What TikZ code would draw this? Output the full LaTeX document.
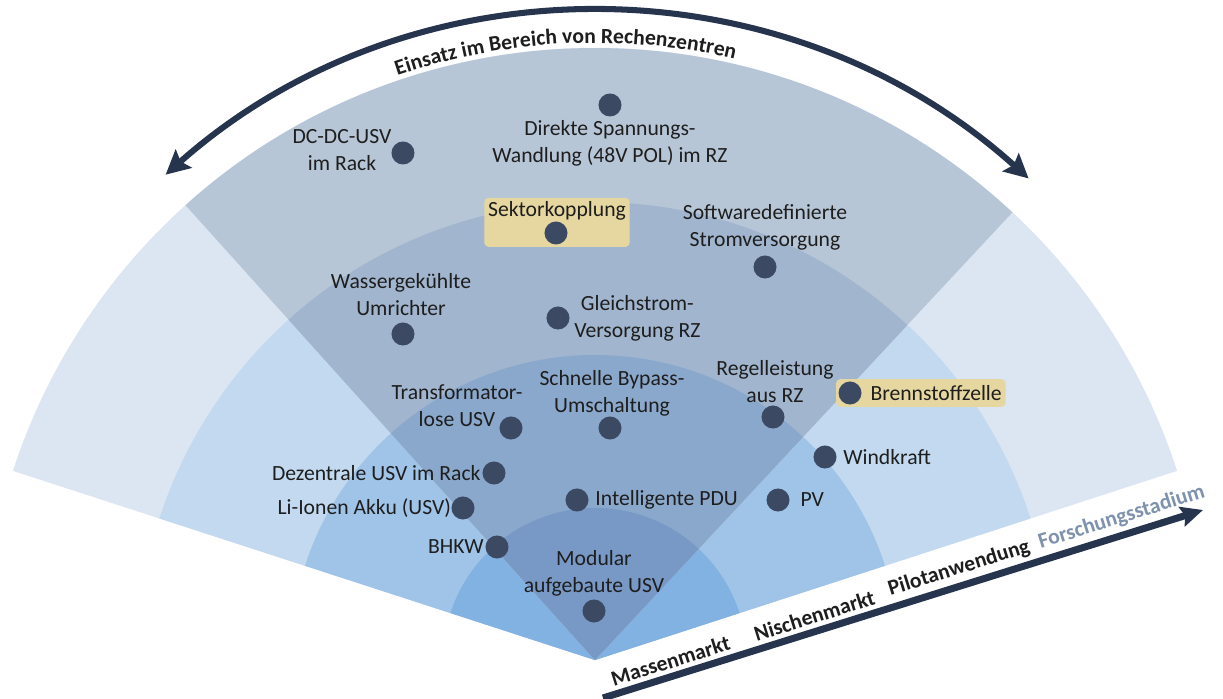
\documentclass[tikz,border=0pt]{standalone}
\usepackage{fontspec}
\setmainfont{Carlito}
\usetikzlibrary{positioning, arrows.meta, fit, backgrounds, decorations.text}

\definecolor{outA}{HTML}{82B2E2}
\definecolor{outB}{HTML}{A0C4E8}
\definecolor{outC}{HTML}{C2D9EF}
\definecolor{outD}{HTML}{DCE6F2}
\definecolor{inA}{HTML}{7898C6}
\definecolor{inB}{HTML}{8AA8CC}
\definecolor{inC}{HTML}{A1B5CE}
\definecolor{inD}{HTML}{B7C6D7}
\definecolor{dotc}{HTML}{3B4963}
\definecolor{ink}{HTML}{1E1E1E}
\definecolor{arrowc}{HTML}{26344D}
\definecolor{hl}{HTML}{E6D7A0}
\definecolor{forsch}{HTML}{7E92AE}

\pgfdeclarelayer{rings}
\pgfsetlayers{rings,background,main}

\newcommand{\arctitlefont}{\color{ink}\bfseries\fontsize{15.4}{19.2}\selectfont}

\begin{document}
\begin{tikzpicture}[
        x=0.025cm, y=0.025cm,
        dot/.style={circle, fill=dotc, minimum size=0.575cm, inner sep=0pt},
        lbl/.style={font=\fontsize{15.4}{19.2}\selectfont, text=ink, align=center, inner sep=1pt},
        axlbl/.style={font=\bfseries\fontsize{15.4}{19.2}\selectfont, text=ink, inner sep=3pt, above, sloped},
        hilite/.style={fill=hl, rounded corners=3pt, inner sep=1.5pt},
        arcarrow/.style={draw=arrowc, line width=4.3pt, {Stealth[length=0.6cm, width=0.6cm, inset=0.1cm]}-{Stealth[length=0.6cm, width=0.6cm, inset=0.1cm]}},
        axarrow/.style={draw=arrowc, line width=5pt, -{Stealth[length=0.55cm, width=0.5cm, inset=0.08cm]}}
    ]
        \useasboundingbox (-595,-38) rectangle (628,660);

        \begin{pgfonlayer}{rings}
        \fill[white] (-595,-38) rectangle (628,660);
        \foreach \r/\c in {612/outD, 458/outC, 305/outB, 152/outA}
            \fill[\c] (0,0) -- (18:\r) arc[start angle=18, end angle=162, radius=\r] -- cycle;
        \foreach \r/\c in {612/inD, 458/inC, 305/inB, 152/inA}
            \fill[\c] (0,0) -- (47:\r) arc[start angle=47, end angle=132, radius=\r] -- cycle;
        \end{pgfonlayer}

        \coordinate (arcL) at (131.5:648);
        \coordinate (arcR) at (48:648);
        \draw[arcarrow] (arcL) arc[start angle=131.5, end angle=48, radius=648];
        \path[decorate, decoration={text along path, text align=center,
            text={|\arctitlefont|Einsatz im Bereich von Rechenzentren}}]
            (118:617) arc[start angle=118, end angle=67.6, radius=617];

        \node[dot] (dspw) at (15,555) {};
        \node[lbl] (dspwlbl) at (15,517) {Direkte Spannungs-\\Wandlung (48V POL) im RZ};
        \node[dot] (dcdc) at (-192,507) {};
        \node[lbl] (dcdclbl) at (-253,510) {DC-DC-USV\\im Rack};
        \node[dot] (sektor) at (-39,427) {};
        \node[lbl] (sektorlbl) at (-38,449) {Sektorkopplung};
        \node[dot] (soft) at (170,393) {};
        \node[lbl] (softlbl) at (170,433) {Softwaredefinierte\\Stromversorgung};
        \node[dot] (wasser) at (-192,326) {};
        \node[lbl] (wasserlbl) at (-194,365) {Wassergekühlte\\Umrichter};
        \node[dot] (gleich) at (-37,342) {};
        \node[lbl, right=2pt of gleich] (gleichlbl) {Gleichstrom-\\Versorgung RZ};
        \node[dot] (regel) at (178,243) {};
        \node[lbl] (regellbl) at (180,278) {Regelleistung\\aus RZ};
        \node[dot] (brenn) at (255,267) {};
        \node[lbl, right=5pt of brenn] (brennlbl) {Brennstoffzelle};
        \node[dot] (bypass) at (15,232) {};
        \node[lbl] (bypasslbl) at (17,267) {Schnelle Bypass-\\Umschaltung};
        \node[dot] (trafo) at (-84,232) {};
        \node[lbl] (trafolbl) at (-138,254) {Transformator-\\lose USV};
        \node[dot] (wind) at (230,203) {};
        \node[lbl, right=3.5pt of wind] (windlbl) {Windkraft};
        \node[dot] (dezent) at (-101,187) {};
        \node[lbl, left=0pt of dezent] (dezentlbl) {Dezentrale USV im Rack};
        \node[dot] (liion) at (-132,152) {};
        \node[lbl, left=-1pt of liion] (liionlbl) {Li-Ionen Akku (USV)};
        \node[dot] (pdu) at (-18,160) {};
        \node[lbl, right=3.5pt of pdu] (pdulbl) {Intelligente PDU};
        \node[dot] (pv) at (183,160) {};
        \node[lbl, right=6.5pt of pv] (pvlbl) {PV};
        \node[dot] (bhkw) at (-98,113) {};
        \node[lbl, left=0pt of bhkw] (bhkwlbl) {BHKW};
        \node[dot] (modular) at (-1,49) {};
        \node[lbl] (modularlbl) at (-1,87) {Modular\\aufgebaute USV};

        \begin{scope}[on background layer]
            \node[hilite, fit=(sektor)(sektorlbl)] (sektorbox) {};
            \node[hilite, fit=(brenn)(brennlbl)] (brennbox) {};
        \end{scope}

        \coordinate (ax0) at (8,-38);
        \coordinate (ax1) at (608,150);
        \draw[axarrow] (ax0) -- node[axlbl, pos=0.12] (massen) {Massenmarkt}
            node[axlbl, pos=0.36] (nischen) {Nischenmarkt}
            node[axlbl, pos=0.602] (pilot) {Pilotanwendung}
            node[axlbl, pos=0.873, text=forsch] (forschung) {Forschungsstadium} (ax1);

    \end{tikzpicture}
\end{document}
